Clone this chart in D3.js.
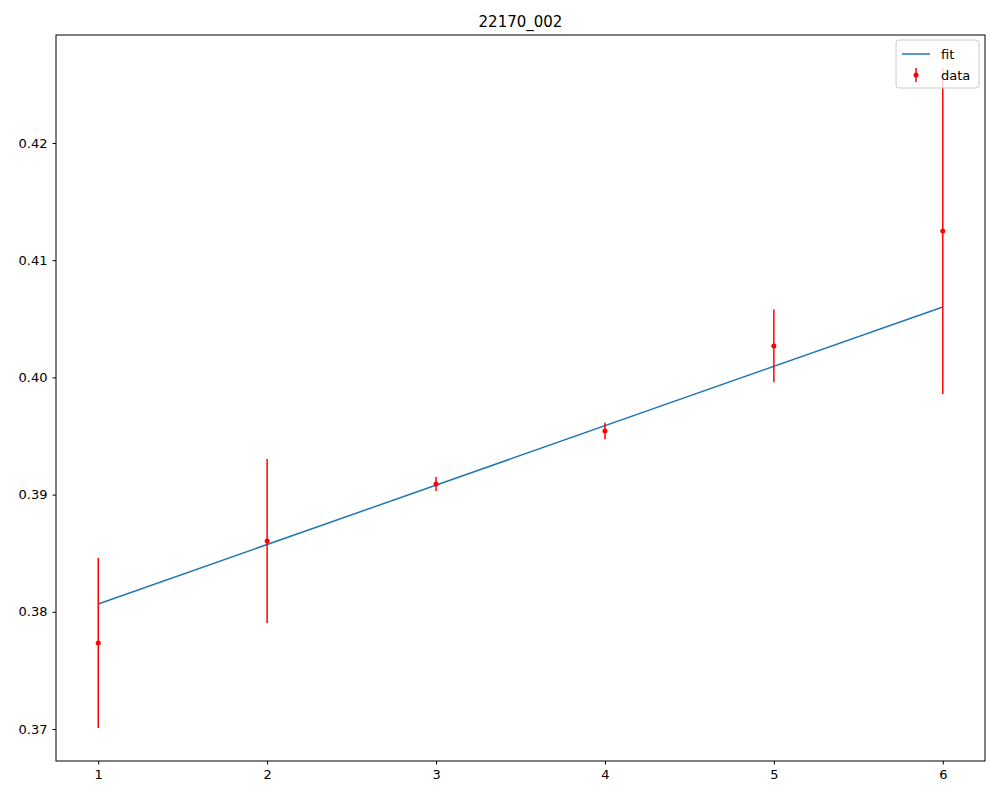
<!DOCTYPE html>
<html><head><meta charset="utf-8">
<script src="https://cdn.jsdelivr.net/npm/d3@7"></script>
<style>body{margin:0;background:#fff}text{font-family:"DejaVu Sans",sans-serif}</style>
</head><body><svg id="c" width="1000" height="800"></svg>
<script>
const xs=[1,2,3,4,5,6];
const ys=[0.37734,0.38604,0.39090,0.39543,0.40268,0.41249];
const errs=[0.00725,0.0070,0.0006,0.0007,0.0031,0.0139];
const fitX=[1,6];
const fitY=[0.38067,0.40601];
const xTicks=[1,2,3,4,5,6];
const yTicks=[0.37,0.38,0.39,0.40,0.41,0.42];
const svg=d3.select("#c");
const L=56,R=985,T=35,B=761;
const x=d3.scaleLinear().domain([0.75,6.25]).range([L,R]);
const y=d3.scaleLinear().domain([0.36727,0.42921]).range([B,T]);
const g=svg.append("g");
g.append("path").attr("d",d3.line().x(d=>x(d[0])).y(d=>y(d[1]))(fitX.map((v,i)=>[v,fitY[i]]))).attr("stroke","#1f77b4").attr("stroke-width",1.5).attr("fill","none");
xs.forEach((v,i)=>{
 g.append("line").attr("x1",x(v)).attr("x2",x(v)).attr("y1",y(ys[i]-errs[i])).attr("y2",y(ys[i]+errs[i])).attr("stroke","red").attr("stroke-width",1.5);
 g.append("circle").attr("cx",x(v)).attr("cy",y(ys[i])).attr("r",2.5).attr("fill","red");
});
const ax=svg.append("g").attr("transform",`translate(0,${B})`).call(d3.axisBottom(x).tickValues(xTicks).tickFormat(d3.format("d")).tickSize(3.5).tickPadding(5));
const ay=svg.append("g").attr("transform",`translate(${L},0)`).call(d3.axisLeft(y).tickValues(yTicks).tickFormat(d3.format(".2f")).tickSize(3.5).tickPadding(5));
[ax,ay].forEach(a=>{a.select(".domain").remove();a.selectAll("text").attr("font-size",13).attr("fill","#000").style("font-family","DejaVu Sans");a.selectAll("line").attr("stroke","#000");});
svg.append("rect").attr("x",L).attr("y",T).attr("width",R-L).attr("height",B-T).attr("fill","none").attr("stroke","#000").attr("stroke-width",1);
svg.append("text").attr("x",(L+R)/2).attr("y",T-8).attr("text-anchor","middle").attr("font-size",15).text("22170_002");
const lg=svg.append("g");
lg.append("rect").attr("x",896).attr("y",40).attr("width",83).attr("height",48).attr("rx",3).attr("fill","#fff").attr("fill-opacity",0.8).attr("stroke","#ccc");
lg.append("line").attr("x1",902).attr("x2",930).attr("y1",54).attr("y2",54).attr("stroke","#1f77b4").attr("stroke-width",1.5);
lg.append("text").attr("x",941).attr("y",59).attr("font-size",13).text("fit");
lg.append("line").attr("x1",916).attr("x2",916).attr("y1",68).attr("y2",82).attr("stroke","red").attr("stroke-width",1.5);
lg.append("circle").attr("cx",916).attr("cy",75).attr("r",2.5).attr("fill","red");
lg.append("text").attr("x",941).attr("y",80).attr("font-size",13).text("data");
</script></body></html>
